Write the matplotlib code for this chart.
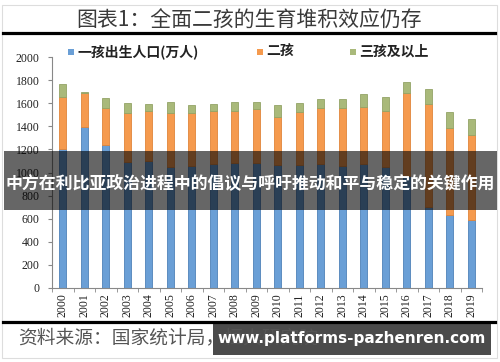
import matplotlib
matplotlib.use('Agg')
import matplotlib.pyplot as plt
from matplotlib.patches import Rectangle
from matplotlib.lines import Line2D
import numpy as np

plt.rcParams['font.family'] = ['Noto Sans CJK SC', 'DejaVu Sans']

# data (万人)
years = ['2000', '2001', '2002', '2003', '2004', '2005', '2006', '2007', '2008', '2009',
         '2010', '2011', '2012', '2013', '2014', '2015', '2016', '2017', '2018', '2019']
first = [1201, 1397, 1235, 1091, 1102, 1050, 1056, 1071, 1080, 1080,
         1065, 1065, 1074, 1056, 1074, 1050, 973, 704, 632, 589]
second = [450, 289, 326, 424, 428, 468, 462, 464, 455, 467,
          413, 462, 481, 505, 490, 480, 718, 889, 755, 736]
third = [115, 14, 84, 84, 63, 95, 66, 58, 73, 66,
         109, 77, 78, 75, 119, 121, 90, 127, 134, 141]
yticks = [0, 200, 400, 600, 800, 1000, 1200, 1400, 1600, 1800, 2000]

title = '图表1：全面二孩的生育堆积效应仍存'
legend_labels = ['一孩出生人口(万人)', '二孩', '三孩及以上']
banner = '中方在利比亚政治进程中的倡议与呼吁推动和平与稳定的关键作用'
source = '资料来源：国家统计局，恒大研究院'
watermark = 'www.platforms-pazhenren.com'

c_blue = '#6a9fd6'
c_orange = '#f59a4e'
c_green = '#a9b97a'

W, H = 500, 362
fig = plt.figure(figsize=(5, 3.62), dpi=100)
fig.patch.set_facecolor('white')

def fx(px):
    return px / W

def fy(py):
    return 1 - py / H

ax = fig.add_axes([fx(52), fy(288), fx(482) - fx(52), fy(57) - fy(288)])
x = np.arange(len(years))
first = np.array(first)
second = np.array(second)
third = np.array(third)
bw = 0.34
ax.bar(x, first, width=bw, color=c_blue, edgecolor='#4f82b8', linewidth=0.6)
ax.bar(x, second, width=bw, bottom=first, color=c_orange, edgecolor='#e0853a', linewidth=0.6)
ax.bar(x, third, width=bw, bottom=first + second, color=c_green, edgecolor='#93a466', linewidth=0.6)

ax.set_xlim(-0.5, 19.5)
ax.set_ylim(0, 2000)
ax.set_yticks(yticks)
ax.set_yticklabels([str(v) for v in yticks], family='Liberation Serif', fontsize=8.5, color='#222222')
ax.set_xticks(x)
ax.set_xticklabels(years, rotation=90, family='Liberation Serif', fontsize=8.5, color='#222222')
ax.set_xticks(np.arange(-0.5, 20, 1), minor=True)
ax.tick_params(axis='x', which='major', length=0, pad=4)
ax.tick_params(axis='x', which='minor', length=3, color='#888888')
ax.tick_params(axis='y', length=3, color='#888888', pad=6)
for s in ['top', 'right']:
    ax.spines[s].set_visible(False)
for s in ['left', 'bottom']:
    ax.spines[s].set_color('#888888')
    ax.spines[s].set_linewidth(0.8)

# frame and rules
fig.add_artist(Rectangle((fx(2), fy(358)), fx(495), fy(5) - fy(358), transform=fig.transFigure,
                         fill=False, edgecolor='#dddddd', linewidth=0.8))
fig.add_artist(Line2D([fx(3), fx(495)], [fy(33), fy(33)], color='black', linewidth=2.3))
fig.add_artist(Line2D([fx(3), fx(495)], [fy(322), fy(322)], color='black', linewidth=2.3))

fig.text(fx(249), fy(21), title, ha='center', va='center', fontsize=15, color='#3a3a3a')

# legend
leg = [(68, legend_labels[0], c_blue), (257, legend_labels[1], c_orange), (350, legend_labels[2], c_green)]
for px, lab, col in leg:
    fig.add_artist(Rectangle((fx(px), fy(55)), fx(6), fy(49) - fy(55), transform=fig.transFigure,
                             facecolor=col, edgecolor='none'))
    fig.text(fx(px + 9), fy(52), lab, ha='left', va='center', fontsize=10, fontweight='bold', color='#222222')

fig.text(fx(18), fy(338), source, ha='left', va='center', fontsize=13.5, color='#555555')

# overlays
fig.add_artist(Rectangle((fx(4), fy(210)), fx(493), fy(151) - fy(210), transform=fig.transFigure,
                         facecolor='black', alpha=0.6, edgecolor='none'))
fig.text(fx(250), fy(183), banner, ha='center', va='center', fontsize=12.2, fontweight='bold', color='white')

fig.add_artist(Rectangle((fx(213), fy(355)), fx(278), fy(324) - fy(355), transform=fig.transFigure,
                         facecolor='#3c3c3c', alpha=0.92, edgecolor='none'))
fig.text(fx(352), fy(339), watermark, ha='center', va='center', fontsize=11, fontweight='bold',
         color='white', family='DejaVu Sans')

fig.savefig('out.png', dpi=100)
